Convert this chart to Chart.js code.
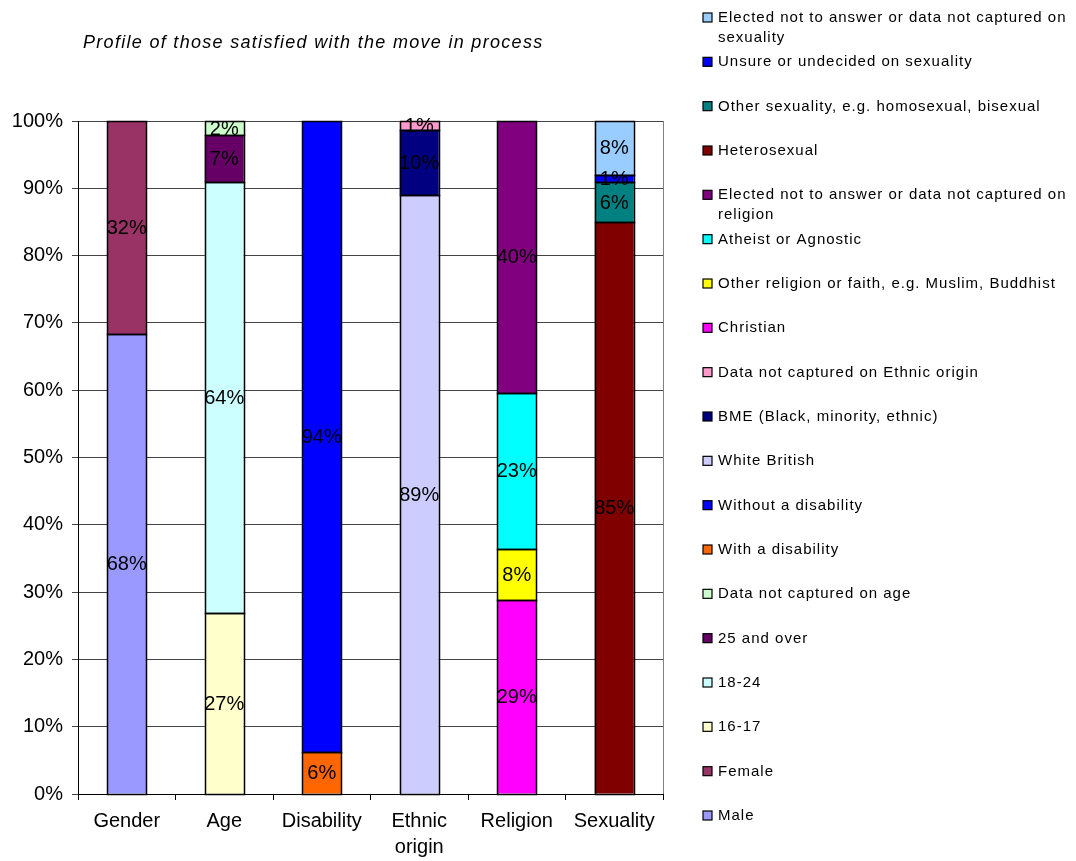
<!DOCTYPE html>
<html>
<head>
<meta charset="utf-8">
<script src="https://cdn.jsdelivr.net/npm/chart.js@4"></script>
<style>
  body { margin: 0; background: #fff; }
  canvas { display: block; }
</style>
</head>
<body>
<canvas id="chart" width="1076" height="861"></canvas>
<script>
const categories = ['Gender', 'Age', 'Disability', ['Ethnic', 'origin'], 'Religion', 'Sexuality']
const yTicks = [0, 10, 20, 30, 40, 50, 60, 70, 80, 90, 100]

// one group per category, bottom to top
const genderNames = ['Male', 'Female']
const genderValues = [68.3, 31.7]
const ageNames = ['16-17', '18-24', '25 and over', 'Data not captured on age']
const ageValues = [26.9, 64.0, 7.0, 2.1]
const disabilityNames = ['With a disability', 'Without a disability']
const disabilityValues = [6.2, 93.8]
const ethnicNames = ['White British', 'BME (Black, minority, ethnic)', 'Data not captured on Ethnic origin']
const ethnicValues = [89.0, 9.7, 1.3]
const religionNames = ['Christian', 'Other religion or faith, e.g. Muslim, Buddhist', 'Atheist or Agnostic', 'Elected not to answer or data not captured on religion']
const religionValues = [28.8, 7.6, 23.2, 40.4]
const sexualityNames = ['Heterosexual', 'Other sexuality, e.g. homosexual, bisexual', 'Unsure or undecided on sexuality', 'Elected not to answer or data not captured on sexuality']
const sexualityValues = [85.0, 5.9, 1.1, 8.0]

const groups = [
  { names: genderNames, values: genderValues, colors: ['#9999FF', '#993366'] },
  { names: ageNames, values: ageValues, colors: ['#FFFFCC', '#CCFFFF', '#660066', '#CCFFCC'] },
  { names: disabilityNames, values: disabilityValues, colors: ['#FF6600', '#0000FF'] },
  { names: ethnicNames, values: ethnicValues, colors: ['#CCCCFF', '#000080', '#FF99CC'] },
  { names: religionNames, values: religionValues, colors: ['#FF00FF', '#FFFF00', '#00FFFF', '#800080'] },
  { names: sexualityNames, values: sexualityValues, colors: ['#800000', '#008080', '#0000FF', '#99CCFF'] },
]

const datasets = []
groups.forEach((g, gi) => {
  g.names.forEach((name, i) => {
    const data = categories.map((c, ci) => (ci === gi ? g.values[i] : null))
    datasets.push({
      label: name,
      data: data,
      backgroundColor: g.colors[i],
      borderWidth: 0,
      inflateAmount: 0,
      barPercentage: 0.4,
      categoryPercentage: 1,
    })
  })
})

// outlines, value labels, title, legend and plot frame
const decorPlugin = {
  id: 'decor',
  afterDatasetsDraw(chart) {
    const ctx = chart.ctx
    ctx.save()
    ctx.strokeStyle = '#000'
    ctx.lineWidth = 1.5
    chart.data.datasets.forEach((ds, di) => {
      chart.getDatasetMeta(di).data.forEach((el, i) => {
        if (ds.data[i] == null) return
        const left = Math.round(el.x - el.width / 2) + 0.5
        const right = Math.round(el.x + el.width / 2) + 0.5
        const top = Math.round(el.y) + 0.5
        const bottom = Math.round(el.base) + 0.5
        ctx.strokeRect(left, top, right - left, bottom - top)
      })
    })
    ctx.font = '20px "Liberation Sans", Arial, sans-serif'
    ctx.fillStyle = '#000'
    ctx.textAlign = 'center'
    ctx.textBaseline = 'middle'
    chart.data.datasets.forEach((ds, di) => {
      chart.getDatasetMeta(di).data.forEach((el, i) => {
        const v = ds.data[i]
        if (v == null) return
        ctx.fillText(Math.round(v) + '%', el.x, (el.y + el.base) / 2 + 1)
      })
    })
    ctx.restore()
  },
  afterDraw(chart) {
    const ctx = chart.ctx
    const area = chart.chartArea
    ctx.save()
    // right frame line
    ctx.strokeStyle = '#808080'
    ctx.lineWidth = 1
    ctx.beginPath()
    ctx.moveTo(area.right + 0.5, area.top)
    ctx.lineTo(area.right + 0.5, area.bottom)
    ctx.stroke()

    // title
    ctx.fillStyle = '#000'
    ctx.font = 'italic 18px "Liberation Sans", Arial, sans-serif'
    ctx.letterSpacing = '1.3px'
    ctx.textAlign = 'left'
    ctx.textBaseline = 'middle'
    ctx.fillText('Profile of those satisfied with the move in process', 83, 43)

    // legend, reversed order, wrap long names
    ctx.font = '15px "Liberation Sans", Arial, sans-serif'
    ctx.letterSpacing = '1px'
    const items = chart.data.datasets.slice().reverse()
    const step = (816 - 18) / (items.length - 1)
    items.forEach((ds, i) => {
      const y = 18 + i * step
      ctx.fillStyle = ds.backgroundColor
      ctx.fillRect(703, y - 5, 9, 9)
      ctx.strokeStyle = '#000'
      ctx.lineWidth = 1.2
      ctx.strokeRect(703, y - 5, 9, 9)
      ctx.fillStyle = '#000'
      let lines = [ds.label]
      const m = ds.label.match(/^(Elected not to answer or data not captured on) (.*)$/)
      if (m) lines = [m[1], m[2]]
      lines.forEach((t, li) => ctx.fillText(t, 718, y + li * 20))
    })
    ctx.restore()
  },
}

new Chart(document.getElementById('chart'), {
  type: 'bar',
  data: { labels: categories, datasets: datasets },
  options: {
    responsive: false,
    animation: false,
    layout: { padding: { top: 121, right: 413, bottom: 0, left: 0 } },
    plugins: {
      legend: { display: false },
      title: { display: false },
      tooltip: { enabled: false },
    },
    scales: {
      x: {
        stacked: true,
        grid: { display: true, drawOnChartArea: false, drawTicks: true, tickLength: 6, color: '#000', offset: true },
        border: { color: '#000', width: 1 },
        ticks: {
          color: '#000',
          padding: 8,
          maxRotation: 0,
          font: { family: '"Liberation Sans", Arial, sans-serif', size: 20, lineHeight: 1.3 },
        },
        afterFit(scale) { scale.height = 67 },
      },
      y: {
        stacked: true,
        min: 0,
        max: 100,
        afterBuildTicks(scale) { scale.ticks = yTicks.map((v) => ({ value: v })) },
        grid: { color: '#444', tickLength: 6, drawTicks: true },
        border: { color: '#000', width: 1 },
        ticks: {
          color: '#000',
          padding: 9,
          font: { family: '"Liberation Sans", Arial, sans-serif', size: 20 },
          callback: (v) => v + '%',
        },
        afterFit(scale) { scale.width = 78 },
      },
    },
  },
  plugins: [decorPlugin],
})
</script>
</body>
</html>
